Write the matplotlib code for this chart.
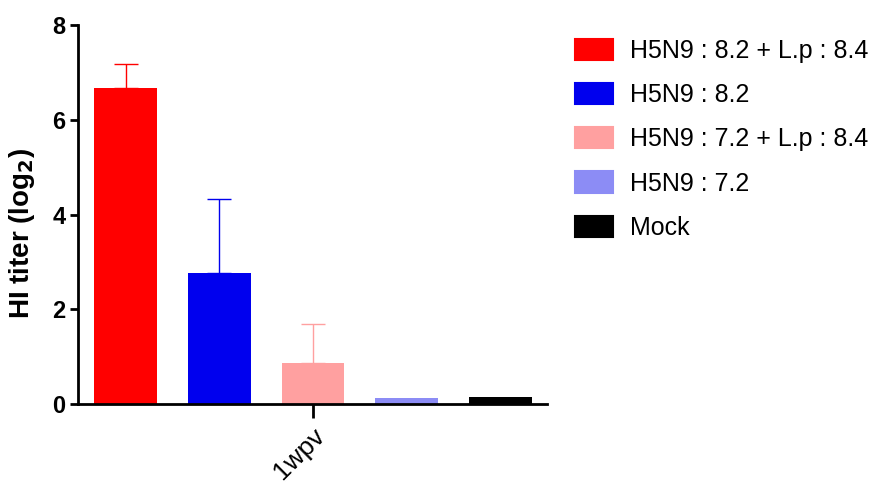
import numpy as np
import matplotlib
matplotlib.use("Agg")
from matplotlib import pyplot as plt
from matplotlib.patches import Patch

groups = ['H5N9 : 8.2 + L.p : 8.4', 'H5N9 : 8.2', 'H5N9 : 7.2 + L.p : 8.4', 'H5N9 : 7.2', 'Mock']
means = [6.67, 2.77, 0.87, 0.13, 0.14]
sd = [0.50, 1.56, 0.82, 0.0, 0.0]
colors = ['#ff0000', '#0000ee', '#ffa0a0', '#8c8cf5', '#000000']
timepoints = ['1wpv']

plt.rcParams['font.family'] = ['Liberation Sans', 'DejaVu Sans']

fig = plt.figure(figsize=(8.82, 4.93), dpi=100)
ax = fig.add_axes([78 / 882, 1 - 404 / 493, (547 - 78) / 882, (404 - 25) / 493])

pos = np.arange(len(groups)) - 2
for i in range(len(groups)):
    err = [[0], [sd[i]]] if sd[i] > 0 else None
    ax.bar(pos[i], means[i], width=0.67, color=colors[i], label=groups[i],
           yerr=err, ecolor=colors[i], error_kw=dict(elinewidth=1.0, capsize=8.3, capthick=1.0))

ax.set_ylim(0, 8)
ax.set_xlim(-2.51, 2.50)
ax.set_yticks([0, 2, 4, 6, 8])
ax.set_xticks([0])
ax.set_xticklabels(timepoints, rotation=45, ha='right', rotation_mode='anchor', fontsize=19)
for lab in ax.get_yticklabels():
    lab.set_fontweight('bold')
    lab.set_fontsize(17)
ax.set_ylabel('HI titer (log$_\\mathbf{2}$)', fontsize=20, fontweight='bold')
ax.yaxis.set_label_coords(-0.087, 0.45)

for s in ['top', 'right']:
    ax.spines[s].set_visible(False)
for s in ['left', 'bottom']:
    ax.spines[s].set_linewidth(2.0)
ax.tick_params(axis='y', width=2.0, length=6, pad=3)
ax.tick_params(axis='x', width=2.0, length=10, pad=4)

handles = [Patch(facecolor=c, edgecolor=c, joinstyle='round', linewidth=1.5) for c in colors]
fig.legend(handles, groups, loc='upper left', bbox_to_anchor=(575 / 882, 1 - 39 / 493),
           frameon=False, fontsize=18, handlelength=1.5, handleheight=0.92,
           handletextpad=0.68, labelspacing=0.8, borderpad=0, borderaxespad=0)

plt.savefig('out.png', dpi=100)
